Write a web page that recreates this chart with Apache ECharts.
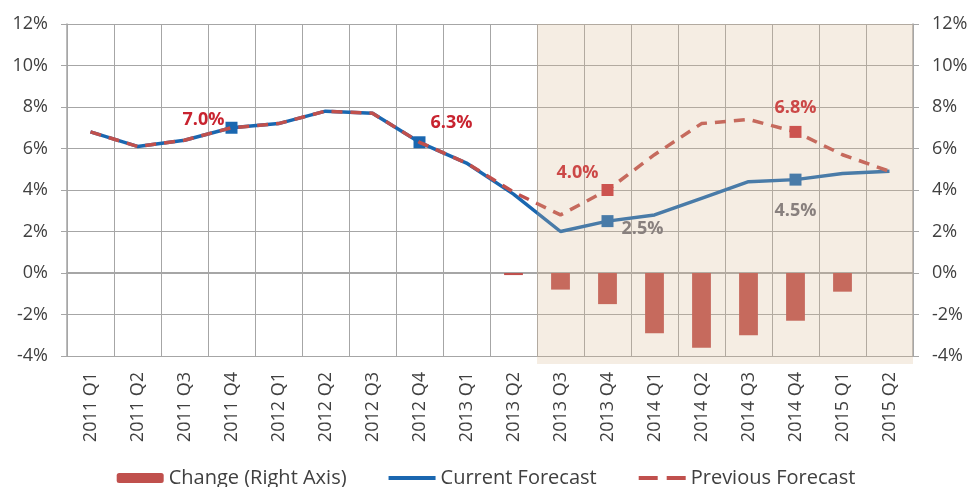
<!DOCTYPE html>
<html>
<head>
<meta charset="utf-8">
<script src="https://cdn.jsdelivr.net/npm/echarts@6/dist/echarts.min.js"></script>
<style>
  html, body { margin: 0; padding: 0; background: #ffffff; }
  #chart { width: 972px; height: 487px; }
</style>
</head>
<body>
<div id="chart"></div>
<script>
// Quarterly categories
const quarters = [
  '2011 Q1', '2011 Q2', '2011 Q3', '2011 Q4',
  '2012 Q1', '2012 Q2', '2012 Q3', '2012 Q4',
  '2013 Q1', '2013 Q2', '2013 Q3', '2013 Q4',
  '2014 Q1', '2014 Q2', '2014 Q3', '2014 Q4',
  '2015 Q1', '2015 Q2'
];

// Growth forecasts (%)
const currentForecast  = [6.8, 6.1, 6.4, 7.0, 7.2, 7.8, 7.7, 6.3, 5.3, 3.8, 2.0, 2.5, 2.8, 3.6, 4.4, 4.5, 4.8, 4.9];
const previousForecast = [6.8, 6.1, 6.4, 7.0, 7.2, 7.8, 7.7, 6.3, 5.3, 3.9, 2.8, 4.0, 5.7, 7.2, 7.4, 6.8, 5.7, 4.9];

// Change between forecasts (right axis, %)
const changeValues = [null, null, null, null, null, null, null, null, null, -0.1, -0.8, -1.5, -2.9, -3.6, -3.0, -2.3, -0.9, 0];

// Forecast period (shaded): 1 = shaded quarter
const forecastPeriod = [null, null, null, null, null, null, null, null, null, null, 1, 1, 1, 1, 1, 1, 1, 1];

// Axis range and ticks
const axisMin = -4, axisMax = 12, axisStep = 2;

// Highlighted points: index -> label settings
const currentMarks = {
  3:  { color: '#c8232f', position: 'left',  offset: [4, -8] },
  7:  { color: '#c8232f', position: 'right', offset: [0, -19] },
  11: { color: '#6e6e78', position: 'right', offset: [3, 8] },
  15: { color: '#6e6e78', position: 'bottom', offset: [0, 11] }
};
const previousMarks = {
  11: { color: '#c8232f', position: 'left',  offset: [2, -17] },
  15: { color: '#c8232f', position: 'top',   offset: [0, -4] }
};

const FONT = 'Open Sans';
const TEXT = '#404040';
const GRID = '#a6a6a6';
const BLUE = '#1a67b0';
const RED = '#c0504d';

function buildPoints(values, marks, markerColor) {
  return values.map((v, i) => {
    const m = marks[i];
    if (!m) return { value: v };
    return {
      value: v,
      symbol: 'rect',
      symbolSize: 12,
      itemStyle: { color: markerColor },
      label: {
        show: true,
        position: m.position,
        offset: m.offset,
        color: m.color,
        fontFamily: FONT,
        fontWeight: 'bold',
        fontSize: 18,
        formatter: p => p.value.toFixed(1) + '%'
      }
    };
  });
}

const chart = echarts.init(document.getElementById('chart'), null, { renderer: 'canvas' });

const yAxisBase = {
  type: 'value',
  min: axisMin,
  max: axisMax,
  interval: axisStep,
  axisLine: { show: true, lineStyle: { color: GRID, width: 1.5 } },
  axisTick: { show: true, length: 6, lineStyle: { color: GRID } },
  axisLabel: {
    formatter: '{value}%',
    color: TEXT,
    fontFamily: FONT,
    fontSize: 18,
    margin: 19
  }
};

chart.setOption({
  animation: false,
  backgroundColor: '#ffffff',
  grid: [
    { left: 67, right: 59, top: 24, bottom: 131, containLabel: false },
    { left: 67, right: 59, top: 24, bottom: 123, containLabel: false }
  ],
  legend: {
    top: 463,
    left: 'center',
    itemWidth: 47,
    itemHeight: 10,
    itemGap: 40,
    textStyle: { color: TEXT, fontFamily: FONT, fontSize: 20 },
    data: [
      { name: 'Change (Right Axis)' },
      { name: 'Current Forecast', itemStyle: { opacity: 0 }, lineStyle: { width: 4 } },
      { name: 'Previous Forecast', itemStyle: { opacity: 0 }, lineStyle: { width: 4, type: [19, 9] } }
    ]
  },
  xAxis: [
    {
      type: 'category',
      gridIndex: 0,
      data: quarters,
      boundaryGap: true,
      axisLine: { show: true, lineStyle: { color: GRID, width: 2 } },
      axisTick: { show: true, length: 8, lineStyle: { color: GRID } },
      splitLine: { show: true, lineStyle: { color: GRID, width: 1 } },
      axisLabel: {
        rotate: 90,
        color: TEXT,
        fontFamily: FONT,
        fontSize: 18,
        margin: 16
      }
    },
    {
      type: 'category',
      gridIndex: 1,
      data: quarters,
      show: false
    }
  ],
  yAxis: [
    Object.assign({}, yAxisBase, {
      gridIndex: 0,
      position: 'left',
      splitLine: { show: true, lineStyle: { color: GRID, width: 1 } }
    }),
    Object.assign({}, yAxisBase, {
      gridIndex: 0,
      position: 'right',
      splitLine: { show: false }
    }),
    {
      type: 'value',
      gridIndex: 1,
      min: 0,
      max: 1,
      show: false
    }
  ],
  series: [
    {
      name: 'Change (Right Axis)',
      type: 'bar',
      xAxisIndex: 0,
      yAxisIndex: 1,
      data: changeValues,
      barWidth: '40%',
      itemStyle: { color: RED },
      z: 2
    },
    {
      name: 'Current Forecast',
      type: 'line',
      xAxisIndex: 0,
      yAxisIndex: 0,
      data: buildPoints(currentForecast, currentMarks, BLUE),
      symbol: 'none',
      showSymbol: true,
      showAllSymbol: true,
      lineStyle: { color: BLUE, width: 3.5 },
      itemStyle: { color: BLUE },
      z: 3
    },
    {
      name: 'Previous Forecast',
      type: 'line',
      xAxisIndex: 0,
      yAxisIndex: 0,
      data: buildPoints(previousForecast, previousMarks, '#c8323a'),
      symbol: 'none',
      showSymbol: true,
      showAllSymbol: true,
      lineStyle: { color: RED, width: 3.5, type: [11, 8] },
      itemStyle: { color: RED },
      z: 4
    },
    {
      // Translucent wash over the forecast quarters
      name: 'Forecast period',
      type: 'bar',
      xAxisIndex: 1,
      yAxisIndex: 2,
      data: forecastPeriod,
      barWidth: '100%',
      barGap: '0%',
      itemStyle: { color: 'rgba(215, 183, 143, 0.25)' },
      silent: true,
      z: 10
    }
  ]
});
</script>
</body>
</html>
